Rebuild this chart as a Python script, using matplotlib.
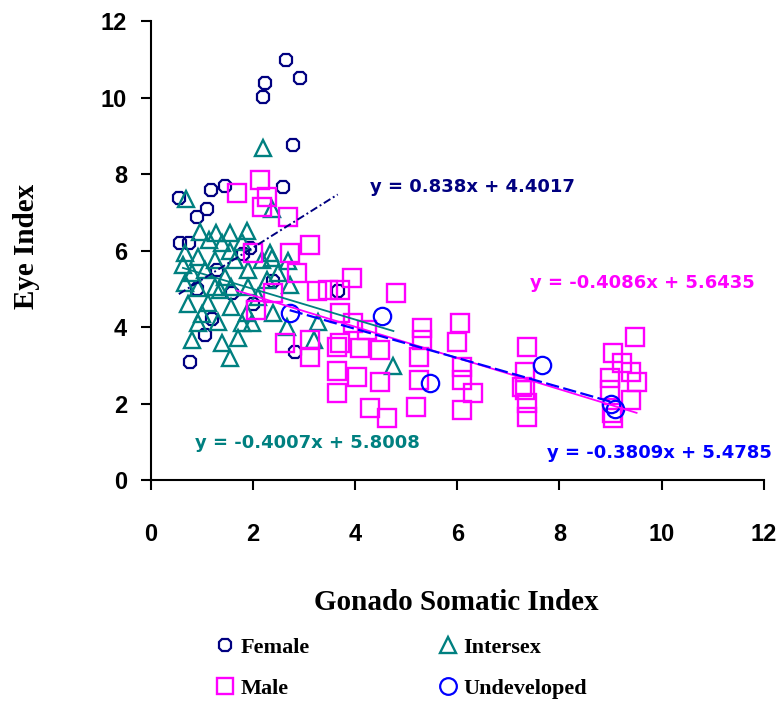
import matplotlib.pyplot as plt
import numpy as np
from matplotlib.lines import Line2D

# Female points (Gonado Somatic Index, Eye Index)
female_x = [2.64, 2.23, 2.19, 2.92, 2.78, 2.58, 0.55, 1.17, 1.45, 0.90, 1.10, 0.57, 0.74, 1.94,
            1.06, 0.76, 2.82, 1.30, 1.60, 2.00, 1.20, 1.80, 2.40, 0.90, 3.66]
female_y = [10.98, 10.38, 10.01, 10.51, 8.76, 7.66, 7.37, 7.58, 7.68, 6.88, 7.08, 6.20, 6.20, 6.07,
            3.79, 3.08, 3.35, 5.50, 4.90, 4.60, 4.20, 5.90, 5.20, 5.00, 4.95]

# Intersex points
intersex_x = [0.70, 2.19, 2.37, 2.68, 4.75, 3.27, 3.20, 2.66, 2.39, 2.72, 2.37,
              0.96, 1.27, 1.56, 1.89, 1.15, 1.39, 1.78, 0.67, 0.92, 1.25, 1.64, 0.80, 1.06,
              1.45, 1.90, 2.17, 2.33, 2.49, 0.63, 1.55, 2.27, 0.67, 0.92, 1.25, 1.58, 1.90,
              0.72, 1.12, 1.58, 1.31, 0.92, 1.78, 1.98, 1.88, 0.80, 1.39, 1.70, 1.55, 2.10,
              1.00, 1.35]
intersex_y = [7.35, 8.68, 7.08, 5.72, 2.97, 4.13, 3.66, 4.00, 4.36, 5.10, 5.80,
              6.49, 6.47, 6.47, 6.51, 6.27, 6.20, 6.22, 5.93, 5.83, 5.75, 5.75, 5.41, 5.49,
              5.31, 5.49, 5.75, 5.93, 5.41, 5.62, 6.00, 5.23, 5.15, 5.02, 5.05, 5.05, 5.05,
              4.60, 4.63, 4.52, 4.13, 4.10, 4.10, 4.10, 4.36, 3.66, 3.58, 3.71, 3.19, 4.80,
              4.35, 4.97]

# Male points
male_x = [1.68, 2.13, 2.27, 2.17, 2.68, 3.11, 2.72, 2.00, 2.86, 3.93, 3.25, 3.46, 3.70, 4.80,
          2.39, 2.07, 3.70, 3.95, 4.23, 3.11, 2.62, 3.70, 3.11, 3.64, 4.09, 4.48, 3.64, 4.03,
          4.48, 3.64, 4.29, 4.63,
          5.30, 5.30, 5.26, 5.26, 5.20,
          6.05, 6.00, 6.10, 6.30, 6.10, 6.10,
          7.36, 7.32, 7.32, 7.36, 7.36, 7.26,
          9.47, 9.04, 9.22, 9.51, 8.98, 8.98, 9.41, 9.04, 9.41, 9.02]
male_y = [7.50, 7.84, 7.40, 7.14, 6.88, 6.14, 5.93, 5.93, 5.41, 5.28, 4.95, 4.97, 4.97, 4.90,
          4.89, 4.44, 4.36, 4.10, 3.92, 3.66, 3.58, 3.58, 3.22, 3.48, 3.45, 3.40, 2.85, 2.69,
          2.56, 2.27, 1.88, 1.62,
          3.97, 3.66, 3.22, 2.61, 1.91,
          4.10, 3.60, 2.95, 2.27, 1.83, 2.61,
          3.48, 2.82, 2.35, 2.01, 1.65, 2.43,
          3.74, 3.32, 3.06, 2.56, 2.67, 2.35, 2.09, 1.62, 2.82, 1.75]

# Undeveloped points
undev_x = [2.72, 4.52, 5.46, 7.65, 9.00, 9.08]
undev_y = [4.37, 4.29, 2.54, 3.00, 2.00, 1.85]

# Trend line coefficients (slope, intercept) as labelled
female_fit = (0.838, 4.4017)
intersex_fit = (-0.4007, 5.8008)
male_fit = (-0.4086, 5.6435)
undev_fit = (-0.3809, 5.4785)

navy = '#000080'
teal = '#008080'
magenta = '#FF00FF'
blue = '#0000FF'

fig = plt.figure(figsize=(7.77, 7.07), dpi=100)
ax = fig.add_axes([0.194, 0.321, 0.789, 0.649])

# scatter series (open markers)
ax.plot(female_x, female_y, ls='none', marker='8', ms=10, mfc='none', mec=navy, mew=1.6)
ax.plot(intersex_x, intersex_y, ls='none', marker='^', ms=11, mfc='none', mec=teal, mew=1.7)
ax.plot(male_x, male_y, ls='none', marker='s', ms=13.5, mfc='none', mec=magenta, mew=1.7)
ax.plot(undev_x, undev_y, ls='none', marker='o', ms=12.5, mfc='none', mec=blue, mew=1.6)

# trend lines
def trend(xs, fit, **kw):
    xx = np.array([min(xs), max(xs)])
    ax.plot(xx, fit[0] * xx + fit[1], **kw)

trend(intersex_x, intersex_fit, color=teal, lw=1.3)
trend(male_x, male_fit, color=magenta, lw=1.3)
trend(undev_x, undev_fit, color=blue, lw=1.6, dashes=(6, 2))
trend(female_x, female_fit, color=navy, lw=1.4, dashes=(4, 1.5, 1, 1.5))

# equation labels
eq_font = dict(fontsize=13, fontweight='bold', family='DejaVu Sans', va='center', clip_on=False)
ax.text(4.29, 7.66, 'y = 0.838x + 4.4017', color=navy, **eq_font)
ax.text(7.42, 5.15, 'y = -0.4086x + 5.6435', color=magenta, **eq_font)
ax.text(0.86, 0.97, 'y = -0.4007x + 5.8008', color=teal, **eq_font)
ax.text(7.75, 0.71, 'y = -0.3809x + 5.4785', color=blue, **eq_font)

ax.set_xlim(0, 12)
ax.set_ylim(0, 12)
ax.set_xticks(range(0, 13, 2))
ax.set_yticks(range(0, 13, 2))
ax.spines['top'].set_visible(False)
ax.spines['right'].set_visible(False)
for s in ['left', 'bottom']:
    ax.spines[s].set_linewidth(1.5)
ax.tick_params(axis='both', direction='out', length=7, width=1.5)
ax.tick_params(axis='x', pad=24)
ax.tick_params(axis='y', pad=10)
for lab in ax.get_xticklabels() + ax.get_yticklabels():
    lab.set_fontfamily('Liberation Sans')
    lab.set_fontweight('bold')
    lab.set_fontsize(17)

# axis titles
fig.text(456 / 777, 1 - 603 / 707, 'Gonado Somatic Index', ha='center', va='center',
         family='Liberation Serif', fontweight='bold', fontsize=21)
fig.text(27 / 777, 1 - 246 / 707, 'Eye Index', ha='center', va='center', rotation=90,
         family='Liberation Serif', fontweight='bold', fontsize=21)

# legend
handles = [
    Line2D([], [], ls='none', marker='8', ms=10, mfc='none', mec=navy, mew=1.6),
    Line2D([], [], ls='none', marker='s', ms=12, mfc='none', mec=magenta, mew=1.7),
    Line2D([], [], ls='none', marker='^', ms=11, mfc='none', mec=teal, mew=1.7),
    Line2D([], [], ls='none', marker='o', ms=12, mfc='none', mec=blue, mew=1.6),
]
labels = ['Female', 'Male', 'Intersex', 'Undeveloped']
fig.legend(handles, labels, ncol=2, loc='center', bbox_to_anchor=(0.517, 0.055),
           frameon=False, handlelength=0.8, handletextpad=0.3, columnspacing=5.8,
           labelspacing=0.9, prop={'family': 'Liberation Serif', 'weight': 'bold', 'size': 16})

fig.savefig('out.png', dpi=100)
